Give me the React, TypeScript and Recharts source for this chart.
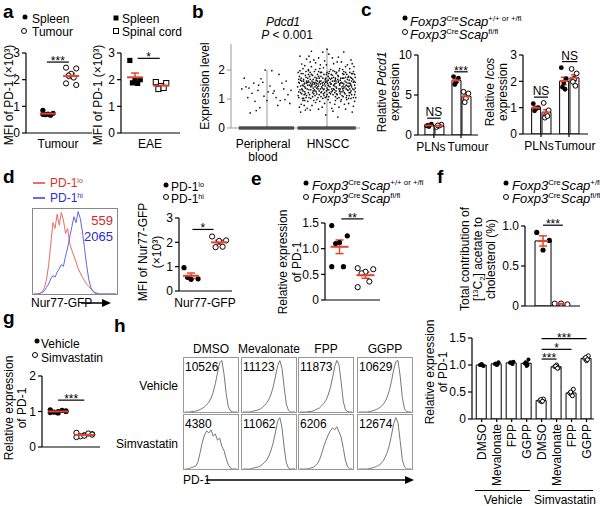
import React from 'react';
import {
  ComposedChart,
  LineChart,
  Line,
  Bar,
  Scatter,
  XAxis,
  YAxis,
  ErrorBar,
  ReferenceLine,
} from 'recharts';

const FONT = '"Liberation Sans", Arial, Helvetica, sans-serif';
const RED = '#e8412c';

// ---- a: MFI of PD-1 (x10^3)
const aTumSpleen = [0.85, 0.74, 0.71, 0.69, 0.67, 0.7];
const aTumTumour = [2.45, 2.42, 2.22, 2.15, 2.08, 1.86, 1.8];
const aEaeSpleen = [2.72, 2.0, 1.98, 1.88, 1.86];
const aEaeSpinal = [1.91, 1.87, 1.76, 1.65, 1.69];

// ---- b: Pdcd1 expression level per cell, [jitter, level]
const bBlood: [number, number][] = [
  [0.62, 1.72], [0.7, 1.38], [0.78, 1.55], [0.85, 1.3], [0.68, 1.05], [0.9, 1.7], [0.75, 1.2],
  [0.95, 1.1], [1.05, 1.45], [1.12, 1.28], [1.2, 1.85], [1.25, 1.55], [1.35, 1.15], [1.4, 1.3],
  [1.3, 0.98], [1.18, 0.78], [1.0, 0.95], [0.82, 0.6], [0.72, 0.52], [0.88, 0.7], [1.08, 1.98],
  [0.97, 2.0], [1.15, 1.05], [1.28, 1.35], [0.65, 1.42], [0.8, 0.92], [1.1, 1.2], [1.22, 0.95],
  [0.93, 1.58], [1.38, 0.85], [0.58, 1.35], [1.02, 1.25], [1.32, 1.62], [0.86, 1.48],
];
const bHnscc: [number, number][] = [
  [1.55, 1.32], [1.63, 0.95], [1.71, 1.78], [1.8, 1.12], [1.88, 2.05], [1.97, 1.45], [2.05, 0.88], [2.14, 1.66], [2.22, 1.25], [2.31, 2.12],
  [2.4, 1.48], [2.46, 0.92], [1.58, 2.21], [1.66, 1.55], [1.75, 0.78], [1.83, 1.38], [1.91, 1.92], [2.0, 1.15], [2.09, 2.42], [2.17, 1.02],
  [2.26, 1.72], [2.35, 1.3], [2.43, 1.88], [1.53, 1.05], [1.61, 1.68], [1.69, 1.22], [1.78, 2.35], [1.86, 0.65], [1.94, 1.58], [2.03, 1.88],
  [2.11, 1.35], [2.2, 0.72], [2.28, 1.95], [2.37, 1.12], [2.45, 1.62], [1.57, 0.82], [1.65, 1.95], [1.73, 1.42], [1.82, 1.65], [1.9, 1.08],
  [1.99, 2.18], [2.07, 1.52], [2.16, 1.18], [2.24, 2.28], [2.33, 0.98], [2.41, 1.42], [1.54, 1.78], [1.62, 1.15], [1.7, 2.48], [1.79, 1.52],
  [1.87, 1.28], [1.96, 0.85], [2.04, 1.72], [2.13, 1.95], [2.21, 1.48], [2.3, 1.62], [2.38, 2.05], [2.47, 1.25], [1.59, 1.48], [1.67, 0.68],
  [1.76, 1.08], [1.84, 1.85], [1.93, 2.62], [2.01, 1.32], [2.1, 0.58], [2.18, 1.82], [2.27, 1.08], [2.36, 1.78], [2.44, 0.75], [1.56, 0.55],
  [1.64, 1.38], [1.72, 1.92], [1.81, 0.88], [1.89, 1.52], [1.98, 1.72], [2.06, 2.02], [2.15, 1.42], [2.23, 0.92], [2.32, 1.48], [2.4, 2.35],
  [1.6, 2.05], [1.68, 1.72], [1.77, 1.28], [1.85, 1.05], [1.94, 1.32], [2.02, 0.98], [2.11, 2.22], [2.19, 1.58], [2.28, 1.38], [2.36, 0.85],
  [2.45, 2.12], [1.53, 1.58], [1.62, 0.78], [1.7, 1.05], [1.79, 1.95], [1.87, 1.72], [1.96, 2.32], [2.04, 1.22], [2.13, 0.82], [2.21, 2.05],
  [2.3, 1.18], [2.38, 1.55], [2.47, 1.75], [1.58, 1.18], [1.66, 2.38], [1.75, 1.62], [1.83, 1.18], [1.92, 0.72], [2.0, 1.62], [2.09, 1.28],
  [2.17, 2.28], [2.26, 1.55], [2.34, 2.18], [2.43, 1.35], [1.55, 2.48], [1.63, 1.25], [1.72, 0.62], [1.8, 1.42], [1.89, 2.18], [1.97, 1.05],
  [2.06, 1.52], [2.14, 1.08], [2.23, 1.72], [2.31, 0.65], [2.4, 1.02], [1.57, 1.88], [1.65, 1.05], [1.74, 2.12], [1.82, 1.55], [1.91, 1.25],
  [1.99, 1.85], [2.08, 0.68], [2.16, 1.92], [2.25, 1.25], [2.33, 1.85], [2.42, 0.55], [1.61, 1.45], [1.69, 1.85], [1.78, 0.95], [1.86, 2.42],
  [1.95, 1.12], [2.03, 2.55], [2.12, 1.62], [2.2, 1.35], [2.29, 0.82], [2.37, 1.45], [2.46, 1.48], [1.54, 0.72], [1.63, 2.15], [1.71, 1.15],
  [1.8, 1.75], [1.88, 0.92], [1.97, 1.68], [2.05, 1.42], [2.14, 0.95], [2.22, 1.65], [2.31, 1.92], [2.39, 1.22], [1.59, 1.02], [1.68, 1.48],
  [1.76, 1.82], [1.85, 1.35], [1.93, 1.02], [2.02, 1.78], [2.1, 1.15], [2.19, 2.45], [2.27, 1.45], [2.36, 1.02], [2.44, 1.95], [1.56, 1.65],
  [1.64, 0.62], [1.73, 1.32], [1.81, 2.25], [1.9, 1.62], [1.98, 0.45], [2.07, 1.85], [2.15, 1.28], [2.24, 0.98], [2.32, 1.58], [2.41, 1.72],
  [1.6, 1.28], [1.69, 2.02], [1.77, 1.58], [1.86, 1.45], [1.94, 2.08], [2.03, 1.08], [2.11, 1.75], [2.2, 1.05], [2.28, 2.62], [2.37, 1.65],
  [1.52, 1.92], [1.66, 1.12], [1.84, 1.62], [2.0, 2.72], [2.18, 0.38], [2.34, 1.32], [2.48, 1.05], [1.74, 2.65], [1.92, 1.38], [2.26, 2.02],
  [1.51, 1.42], [1.58, 1.62], [1.64, 1.18], [1.7, 1.58], [1.77, 1.38], [1.83, 0.98], [1.9, 1.78], [1.96, 1.22], [2.03, 1.45], [2.09, 1.62],
  [2.15, 1.88], [2.22, 1.35], [2.28, 1.72], [2.35, 1.55], [2.41, 1.15], [2.47, 1.38], [1.53, 1.25], [1.6, 1.88], [1.67, 1.35], [1.73, 1.02],
  [1.8, 1.58], [1.86, 1.95], [1.93, 1.48], [1.99, 1.28], [2.06, 1.18], [2.12, 1.45], [2.19, 1.78], [2.25, 1.12], [2.32, 1.35], [2.38, 1.92],
  [2.44, 1.58], [1.56, 1.45], [1.62, 1.52], [1.69, 1.62], [1.75, 1.45], [1.82, 1.25], [1.88, 1.62], [1.95, 1.85], [2.01, 1.55], [2.08, 1.35],
  [2.14, 1.72], [2.21, 1.52], [2.27, 1.28], [2.34, 1.68], [2.4, 1.28], [2.46, 1.85], [1.52, 1.12], [1.59, 1.32], [1.65, 1.75], [1.72, 1.68],
  [1.78, 1.18], [1.85, 1.52], [1.91, 1.42], [1.98, 1.58], [2.04, 1.95], [2.11, 1.48], [2.17, 1.15], [2.24, 1.58], [2.3, 1.42], [2.37, 1.22],
  [2.43, 1.68], [1.54, 1.55], [1.61, 1.02], [1.67, 1.58], [1.74, 1.85], [1.8, 1.28], [1.87, 1.15], [1.93, 1.72], [2.0, 1.38], [2.06, 1.68],
  [2.13, 1.22], [2.19, 1.62], [2.26, 1.88], [2.32, 1.05], [2.39, 1.52], [2.45, 1.32], [1.57, 1.72], [1.63, 1.42], [1.7, 1.32], [1.76, 1.52],
  [1.83, 1.72], [1.89, 1.35], [1.96, 1.52], [2.02, 1.65], [2.09, 1.82], [2.15, 1.55], [2.22, 1.18], [2.28, 1.52], [2.35, 1.75], [2.41, 1.62],
  [1.55, 1.98], [1.61, 1.62], [1.68, 0.92], [1.74, 1.48], [1.81, 2.02], [1.87, 1.58], [1.94, 1.18], [2.0, 1.92], [2.07, 1.25], [2.13, 1.52],
  [2.2, 1.98], [2.26, 1.35], [2.33, 1.12], [2.39, 1.75], [2.46, 1.15], [1.58, 1.35], [1.64, 1.82], [1.71, 1.48], [1.77, 1.68], [1.84, 1.42],
  [1.9, 1.22], [1.97, 1.62], [2.03, 1.32], [2.1, 1.98], [2.16, 1.38], [2.23, 1.55], [2.29, 1.22], [2.36, 1.42], [2.42, 2.22], [1.53, 1.68],
  [1.6, 0.95], [1.66, 1.62], [1.73, 1.55], [1.79, 1.32], [1.86, 1.78], [1.92, 1.55], [1.99, 1.08], [2.05, 1.58], [2.12, 1.32], [2.18, 1.68],
  [2.25, 1.42], [2.31, 1.75], [2.38, 1.35], [2.44, 1.05], [1.56, 1.22], [1.63, 1.55], [1.69, 1.98], [1.76, 1.22], [1.82, 1.48], [1.89, 1.92],
  [1.95, 1.35], [2.02, 1.48], [2.08, 1.72], [2.15, 1.62], [2.21, 1.28], [2.28, 1.85], [2.34, 1.45], [2.41, 1.88], [2.47, 1.58], [1.72, 2.28],
];

// ---- c: relative expression, [PLNs, Tumour]
const cGroups = ['PLNs', 'Tumour'];
const cPdcd1Ctrl = [[1.15, 1.35, 1.05, 1.2], [7.3, 7.1, 6.6, 6.3]];
const cPdcd1Ko = [[1.0, 1.3, 1.15, 1.2], [5.4, 5.2, 4.6, 4.1]];
const cIcosCtrl = [[1.15, 1.0, 0.95, 0.88], [2.52, 2.1, 1.95, 1.78, 1.7]];
const cIcosKo = [[1.18, 0.9, 0.72, 0.62, 0.68], [2.47, 2.3, 2.1, 1.98, 1.83]];

// ---- d: Nur77-GFP histograms (40 bins) and MFI
const dHistLo = [0, 0, 0, 1, 3, 8, 18, 35, 60, 85, 78, 95, 82, 97, 88, 72, 78, 60, 52, 45, 38, 30, 25, 20, 16, 12, 9, 6, 4, 2, 1, 0, 0, 0, 0, 0, 0, 0, 0, 0];
const dHistHi = [0, 0, 0, 1, 2, 4, 8, 12, 18, 22, 20, 26, 30, 35, 33, 45, 55, 68, 80, 92, 85, 98, 90, 75, 55, 35, 18, 8, 3, 1, 0, 0, 0, 0, 0, 0, 0, 0, 0, 0];
const dMfi = ['559', '2065'];
const dNurLo = [0.96, 0.5, 0.48, 0.56];
const dNurHi = [2.24, 2.08, 2.06, 1.8, 1.82];

// ---- e: relative expression of PD-1
const eCtrl = [1.45, 1.25, 1.12, 1.1, 0.65, 0.65];
const eKo = [0.62, 0.6, 0.55, 0.52, 0.36, 0.25];

// ---- f: [13C2] acetate to cholesterol (%)
const fCtrl = [0.92, 0.82, 0.7];
const fKo = [0.03, 0.02, 0.03];

// ---- g: relative expression of PD-1
const gVehicle = [1.05, 1.02, 1.0, 0.98, 1.03, 0.97, 1.0, 0.96];
const gSimva = [0.4, 0.36, 0.33, 0.3, 0.38, 0.28, 0.35, 0.32];

// ---- h
const hTreat = ['DMSO', 'Mevalonate', 'FPP', 'GGPP'];
const hMfiVehicle = [10526, 11123, 11873, 10629];
const hMfiSimva = [4380, 11062, 6206, 12674];
const hHistVehicle = [
  [0, 0, 0, 1, 1, 2, 3, 5, 7, 10, 14, 19, 27, 38, 55, 76, 96, 100, 74, 36, 10, 2, 0, 0, 0],
  [0, 0, 0, 0, 1, 2, 3, 4, 6, 9, 13, 18, 25, 35, 50, 70, 90, 100, 85, 48, 15, 3, 0, 0, 0],
  [0, 0, 0, 0, 1, 1, 2, 4, 6, 8, 12, 17, 23, 33, 47, 66, 88, 100, 92, 58, 20, 4, 1, 0, 0],
  [0, 0, 0, 0, 0, 1, 2, 3, 5, 7, 10, 14, 20, 29, 42, 60, 82, 98, 100, 70, 28, 6, 1, 0, 0],
];
const hHistSimva = [
  [0, 0, 1, 3, 4, 6, 14, 32, 52, 66, 74, 70, 76, 64, 68, 56, 60, 44, 36, 20, 8, 2, 0, 0, 0],
  [0, 0, 0, 0, 1, 2, 3, 4, 6, 9, 13, 18, 26, 37, 52, 72, 93, 100, 80, 42, 12, 2, 0, 0, 0],
  [0, 0, 0, 0, 1, 2, 3, 6, 10, 18, 30, 44, 56, 66, 74, 80, 76, 82, 72, 62, 40, 16, 4, 0, 0],
  [0, 0, 0, 0, 0, 1, 2, 3, 5, 7, 10, 15, 22, 32, 46, 66, 88, 100, 90, 55, 18, 4, 0, 0, 0],
];
const hRelVehicle = [
  [1.0, 0.98, 1.02, 1.01, 0.99],
  [1.02, 1.05, 1.0, 1.03, 1.01],
  [1.04, 1.06, 1.03, 1.05, 1.02],
  [1.03, 1.1, 0.98, 1.05, 1.0],
];
const hRelSimva = [
  [0.34, 0.37, 0.32, 0.36, 0.33],
  [0.97, 0.95, 1.0, 0.98, 0.94],
  [0.48, 0.55, 0.45, 0.5, 0.43],
  [1.12, 1.17, 1.08, 1.14, 1.1],
];

// ---------------------------------------------------------------------------

const AX = { stroke: '#000', strokeWidth: 1.2 };
const GAX = { stroke: '#999', strokeWidth: 1 };
const TICK = { fontSize: 12, fill: '#000', fontFamily: FONT };
const YW = 30;
const MR = 20;

type Geom = { ax: number; yt: number; y0: number; xr: number };
type Mark = 'fc' | 'oc' | 'fs' | 'os';
type Grp = { c: number; v: number[]; m: Mark };
type Sig = { x1: number; x2: number; y: number; t: string };

const OFF = [-1, 1, 0, -0.5, 0.5, -1, 1, 0, -0.5, 0.5];
const spread = (v: number[], c: number, step: number) =>
  v.map((y, i) => ({ x: c + OFF[i % OFF.length] * step, y }));
const mean = (v: number[]) => v.reduce((a, b) => a + b, 0) / v.length;
const sem = (v: number[]) => {
  const m = mean(v);
  const sd = Math.sqrt(v.reduce((a, b) => a + (b - m) ** 2, 0) / (v.length - 1));
  return sd / Math.sqrt(v.length);
};
const int = (v: number) => String(v);
const dec = (v: number) => (v === 0 ? '0' : v.toFixed(1));

const markShape = (m: Mark, r: number) => (p: any) => {
  if (p.cx == null) return <g />;
  if (m === 'fc') return <circle cx={p.cx} cy={p.cy} r={r} fill="#000" />;
  if (m === 'oc') return <circle cx={p.cx} cy={p.cy} r={r} fill="#fff" stroke="#000" strokeWidth={1} />;
  if (m === 'fs') return <rect x={p.cx - r} y={p.cy - r} width={2 * r} height={2 * r} fill="#000" />;
  return <rect x={p.cx - r} y={p.cy - r} width={2 * r} height={2 * r} fill="#fff" stroke="#000" strokeWidth={1} />;
};
const meanShape = (hw: number, color: string) => (p: any) =>
  hw > 0 && p.cx != null ? (
    <line x1={p.cx - hw} x2={p.cx + hw} y1={p.cy} y2={p.cy} stroke={color} strokeWidth={2} />
  ) : (
    <g />
  );

const yAxis = (yd: number[], ticks: number[], fmt: (v: number) => string, line = AX) => (
  <YAxis
    type="number"
    dataKey="y"
    domain={yd}
    ticks={ticks}
    interval={0}
    width={YW}
    tickSize={4}
    tickMargin={2}
    allowDataOverflow
    axisLine={line}
    tickLine={line}
    tick={TICK}
    tickFormatter={fmt}
  />
);

const sigLine = (s: Sig, k: number, xAxisId: any = 0) => (
  <ReferenceLine
    key={'s' + k}
    xAxisId={xAxisId}
    segment={[{ x: s.x1, y: s.y }, { x: s.x2, y: s.y }]}
    stroke="#000"
    strokeWidth={1.2}
    ifOverflow="visible"
    label={{ value: s.t, position: 'top', offset: s.t.includes('*') ? -3 : 2, fontSize: 12, fill: '#000', fontFamily: FONT }}
  />
);

const meanLayer = (gs: Grp[], hw: number, color: string, cap: number, xAxisId: any = 0) =>
  gs.map((g, k) => (
    <Scatter
      key={'m' + k}
      xAxisId={xAxisId}
      data={[{ x: g.c, y: mean(g.v), e: sem(g.v) }]}
      dataKey="y"
      shape={meanShape(hw, color)}
      isAnimationActive={false}
    >
      <ErrorBar dataKey="e" direction="y" width={cap} stroke={color} strokeWidth={1.5} />
    </Scatter>
  ));

function Plot({ g, xh, mt = 22, data, children }: { g: Geom; xh: number; mt?: number; data?: any[]; children: any }) {
  const width = g.xr - g.ax + YW + MR;
  const height = g.y0 - g.yt + mt + xh;
  return (
    <div style={{ position: 'absolute', left: g.ax - YW, top: g.yt - mt }}>
      <ComposedChart width={width} height={height} data={data} margin={{ top: mt, right: MR, left: 0, bottom: 0 }}>
        {children}
      </ComposedChart>
    </div>
  );
}

function DotChart(props: {
  g: Geom; xd: number[]; yd: number[]; ticks: number[]; fmt: (v: number) => string;
  groups: Grp[]; sigs?: Sig[]; step?: number; r?: number; hw?: number;
}) {
  const { g, xd, yd, ticks, fmt, groups, sigs = [], step = 0.12, r = 2.6, hw = 9 } = props;
  return (
    <Plot g={g} xh={10}>
      <XAxis type="number" dataKey="x" domain={xd} allowDataOverflow height={10} tick={false} tickLine={false} axisLine={AX} />
      {yAxis(yd, ticks, fmt)}
      {groups.map((gr, k) => (
        <Scatter key={'p' + k} data={spread(gr.v, gr.c, step)} dataKey="y" shape={markShape(gr.m, r)} isAnimationActive={false} />
      ))}
      {meanLayer(groups, hw, RED, 4)}
      {sigs.map((s, k) => sigLine(s, k))}
    </Plot>
  );
}

function BarDots(props: {
  g: Geom; xd: number[]; yd: number[]; ticks: number[]; fmt: (v: number) => string;
  bars: Grp[]; bw: number; xt: number[]; tickEl: any; xh: number; sigs: Sig[];
  step: number; r: number; ec: string; hw: number; cap: number;
}) {
  const { g, xd, yd, ticks, fmt, bars, bw, xt, tickEl, xh, sigs, step, r, ec, hw, cap } = props;
  const rows = bars.map((b) => ({ x: b.c, y: mean(b.v) }));
  return (
    <Plot g={g} xh={xh} data={rows}>
      <XAxis
        xAxisId="b"
        type="number"
        dataKey="x"
        domain={xd}
        allowDataOverflow
        ticks={xt}
        interval={0}
        height={xh}
        tickSize={3}
        axisLine={AX}
        tickLine={tickEl === false ? false : AX}
        tick={tickEl}
      />
      <XAxis xAxisId="p" type="number" dataKey="x" domain={xd} allowDataOverflow hide />
      {yAxis(yd, ticks, fmt)}
      <Bar xAxisId="b" dataKey="y" barSize={bw} fill="#fff" stroke="#000" strokeWidth={1} isAnimationActive={false} />
      {bars.map((b, k) => (
        <Scatter key={'p' + k} xAxisId="p" data={spread(b.v, b.c, step)} dataKey="y" shape={markShape(b.m, r)} isAnimationActive={false} />
      ))}
      {meanLayer(bars, hw, ec, cap, 'p')}
      {sigs.map((s, k) => sigLine(s, k, 'p'))}
    </Plot>
  );
}

const catTick = (labels: string[], shift: number[]) => (p: any) => {
  const i = Math.round(p.payload.value) - 1;
  return (
    <text x={p.x + shift[i]} y={p.y + 2} dy="0.71em" textAnchor="middle" fontSize={12} fontFamily={FONT} fill="#000">
      {labels[i]}
    </text>
  );
};
const rotTick = (labels: string[]) => (p: any) => {
  const i = Math.round(p.payload.value) - 1;
  return (
    <text
      x={p.x}
      y={p.y}
      transform={`rotate(-90 ${p.x} ${p.y})`}
      textAnchor="end"
      dominantBaseline="central"
      fontSize={12}
      fontFamily={FONT}
      fill="#000"
    >
      {labels[i]}
    </text>
  );
};

function Hist({ x, y, w, h, series, colors, maxY, border }: {
  x: number; y: number; w: number; h: number; series: number[][]; colors: string[]; maxY: number; border: string;
}) {
  const rows = series[0].map((_, i) => {
    const r: any = { i };
    series.forEach((s, k) => (r['s' + k] = s[i]));
    return r;
  });
  return (
    <div style={{ position: 'absolute', left: x, top: y, width: w, height: h, border: `1px solid ${border}`, boxSizing: 'border-box' }}>
      <LineChart width={w - 2} height={h - 2} data={rows} margin={{ top: 1, right: 1, bottom: 0, left: 1 }}>
        <XAxis dataKey="i" type="number" domain={[0, rows.length - 1]} hide />
        <YAxis domain={[0, maxY]} allowDataOverflow hide />
        {series.map((_, k) => (
          <Line key={k} type="linear" dataKey={'s' + k} stroke={colors[k]} strokeWidth={1} dot={false} isAnimationActive={false} />
        ))}
      </LineChart>
    </div>
  );
}

// ---- text helpers
function Tx({ x, y, a = 'start', s = 12, b, i, c = '#000', children }: {
  x: number; y: number; a?: 'start' | 'middle' | 'end'; s?: number; b?: boolean; i?: boolean; c?: string; children: any;
}) {
  const tx = a === 'start' ? '0' : a === 'middle' ? '-50%' : '-100%';
  return (
    <div
      style={{
        position: 'absolute', left: x, top: y, transform: `translate(${tx}, -50%)`, fontSize: s,
        fontWeight: b ? 700 : 400, fontStyle: i ? 'italic' : 'normal', color: c, whiteSpace: 'nowrap', lineHeight: 1,
      }}
    >
      {children}
    </div>
  );
}
function YLab({ x, y, lines, lh = 13 }: { x: number; y: number; lines: any[]; lh?: number }) {
  return (
    <div
      style={{
        position: 'absolute', left: x, top: y, transform: 'translate(-50%, -50%) rotate(-90deg)', textAlign: 'center',
        fontSize: 12, lineHeight: lh + 'px', whiteSpace: 'nowrap',
      }}
    >
      {lines.map((l, k) => (
        <div key={k}>{l}</div>
      ))}
    </div>
  );
}
const Sup = ({ children }: { children: any }) => (
  <span style={{ fontSize: '0.6em', verticalAlign: '0.55em', fontStyle: 'normal', lineHeight: 0 }}>{children}</span>
);
const Geno = ({ sup }: { sup: string }) => (
  <>
    <i>Foxp3</i>
    <Sup>Cre</Sup>
    <i>Scap</i>
    <Sup>{sup}</Sup>
  </>
);
function Mk({ x, y, k, r = 2.5 }: { x: number; y: number; k: Mark; r?: number }) {
  return (
    <svg style={{ position: 'absolute', left: x - 5, top: y - 5 }} width={10} height={10}>
      {markShape(k, r)({ cx: 5, cy: 5 })}
    </svg>
  );
}
function LineMk({ x, y, w, c }: { x: number; y: number; w: number; c: string }) {
  return (
    <svg style={{ position: 'absolute', left: x, top: y - 2 }} width={w} height={4}>
      <line x1={0} x2={w} y1={2} y2={2} stroke={c} strokeWidth={1.5} />
    </svg>
  );
}
function Arrow({ x1, x2, y }: { x1: number; x2: number; y: number }) {
  const w = x2 - x1;
  return (
    <svg style={{ position: 'absolute', left: x1, top: y - 5 }} width={w} height={10}>
      <line x1={0} y1={5} x2={w - 6} y2={5} stroke="#000" strokeWidth={1.5} />
      <polygon points={`${w - 9},1 ${w},5 ${w - 9},9`} fill="#000" />
    </svg>
  );
}
const Letter = ({ x, y, t }: { x: number; y: number; t: string }) => (
  <Tx x={x} y={y} s={19} b>
    {t}
  </Tx>
);

// ---------------------------------------------------------------------------

export default function App() {
  const blood = bBlood.map(([x, y]) => ({ x, y }));
  const hnscc = bHnscc.map(([x, y]) => ({ x, y }));
  const span = (pts: { x: number; y: number }[]) => ({
    x1: Math.min(...pts.map((p) => p.x)),
    x2: Math.max(...pts.map((p) => p.x)),
    top: Math.max(...pts.map((p) => p.y)),
  });
  const sb = span(blood);
  const sh = span(hnscc);
  const tiny = (p: any) => (p.cx == null ? <g /> : <circle cx={p.cx} cy={p.cy} r={0.85} fill="#111" />);

  const cBars = (ctrl: number[][], ko: number[][]): Grp[] =>
    cGroups.flatMap((_, i) => [
      { c: i + 1 - 0.185, v: ctrl[i], m: 'fc' as Mark },
      { c: i + 1 + 0.185, v: ko[i], m: 'oc' as Mark },
    ]);

  const hBars: Grp[] = [
    ...hRelVehicle.map((v, i) => ({ c: i + 1, v, m: 'fc' as Mark })),
    ...hRelSimva.map((v, i) => ({ c: i + 5, v, m: 'oc' as Mark })),
  ];
  const hCols = [183, 241, 298, 357];
  const hRows = [357, 414];

  return (
    <div
      style={{
        position: 'absolute', left: 0, top: 0, width: 600, height: 506, background: '#fff',
        fontFamily: FONT, overflow: 'hidden', color: '#000',
      }}
    >
      {/* ---------------- a ---------------- */}
      <Letter x={3} y={11} t="a" />
      <Mk x={25} y={17} k="fc" />
      <Tx x={32} y={19}>Spleen</Tx>
      <Mk x={24} y={31} k="oc" />
      <Tx x={32} y={32}>Tumour</Tx>
      <YLab x={9} y={95} lines={['MFI of PD-1 (×10³)']} />
      <DotChart
        g={{ ax: 26, yt: 53, y0: 133, xr: 92 }}
        xd={[0.05, 2.9]}
        yd={[0, 3]}
        ticks={[0, 1, 2, 3]}
        fmt={int}
        groups={[
          { c: 1, v: aTumSpleen, m: 'fc' },
          { c: 2, v: aTumTumour, m: 'oc' },
        ]}
        sigs={[{ x1: 0.95, x2: 1.9, y: 2.66, t: '***' }]}
        step={0.22}
        hw={8}
      />
      <Tx x={58} y={144} a="middle">Tumour</Tx>

      <Mk x={116} y={18} k="fs" />
      <Tx x={122} y={19}>Spleen</Tx>
      <Mk x={116} y={31} k="os" />
      <Tx x={122} y={32}>Spinal cord</Tx>
      <YLab x={98} y={95} lines={['MFI of PD-1 (×10³)']} />
      <DotChart
        g={{ ax: 121, yt: 53, y0: 133, xr: 180 }}
        xd={[0.46, 2.73]}
        yd={[0, 3]}
        ticks={[0, 1, 2, 3]}
        fmt={int}
        groups={[
          { c: 1, v: aEaeSpleen, m: 'fs' },
          { c: 2, v: aEaeSpinal, m: 'os' },
        ]}
        sigs={[{ x1: 1.1, x2: 1.95, y: 2.8, t: '*' }]}
        step={0.2}
        hw={8}
      />
      <Tx x={150} y={144} a="middle">EAE</Tx>

      {/* ---------------- b ---------------- */}
      <Letter x={192} y={11} t="b" />
      <Tx x={283} y={22} a="middle" i>Pdcd1</Tx>
      <Tx x={287} y={35} a="middle"><i>P</i> &lt; 0.001</Tx>
      <YLab x={205} y={86} lines={['Expression level']} />
      <Plot g={{ ax: 231, yt: 44, y0: 128, xr: 360 }} xh={10}>
        <XAxis type="number" dataKey="x" domain={[0.4, 2.55]} allowDataOverflow height={10} tick={false} tickLine={false} axisLine={GAX} />
        {yAxis([0, 2.9], [0, 1, 2], int, GAX)}
        <ReferenceLine segment={[{ x: 1, y: 0 }, { x: 1, y: sb.top }]} stroke="#999" strokeWidth={1} />
        <ReferenceLine segment={[{ x: 2, y: 0 }, { x: 2, y: sh.top }]} stroke="#999" strokeWidth={1} />
        <Scatter data={blood} dataKey="y" shape={tiny} isAnimationActive={false} />
        <Scatter data={hnscc} dataKey="y" shape={tiny} isAnimationActive={false} />
        <ReferenceLine segment={[{ x: sb.x1 - 0.05, y: 0 }, { x: sb.x2 + 0.05, y: 0 }]} stroke="#000" strokeWidth={3} />
        <ReferenceLine segment={[{ x: sh.x1, y: 0 }, { x: sh.x2, y: 0 }]} stroke="#000" strokeWidth={3} />
      </Plot>
      <Tx x={263} y={144} a="middle">Peripheral</Tx>
      <Tx x={263} y={157} a="middle">blood</Tx>
      <Tx x={328} y={144} a="middle">HNSCC</Tx>

      {/* ---------------- c ---------------- */}
      <Letter x={361} y={9} t="c" />
      <Mk x={405} y={18} k="fc" />
      <Tx x={410} y={21} s={13}><Geno sup="+/+ or +/fl" /></Tx>
      <Mk x={405} y={32} k="oc" />
      <Tx x={410} y={34} s={13}><Geno sup="fl/fl" /></Tx>
      <YLab x={389} y={92} lines={[<>Relative <i>Pdcd1</i></>, 'expression']} />
      <BarDots
        g={{ ax: 418, yt: 55, y0: 135, xr: 478 }}
        xd={[0.41, 2.63]}
        yd={[0, 10]}
        ticks={[0, 5, 10]}
        fmt={int}
        bars={cBars(cPdcd1Ctrl, cPdcd1Ko)}
        bw={9}
        xt={[1, 2]}
        tickEl={catTick(cGroups, [-3, 7])}
        xh={18}
        sigs={[
          { x1: 0.75, x2: 1.25, y: 2.1, t: 'NS' },
          { x1: 1.75, x2: 2.25, y: 7.9, t: '***' },
        ]}
        step={0.09}
        r={2.4}
        ec={RED}
        hw={4}
        cap={3}
      />
      <YLab x={497} y={92} lines={[<>Relative <i>Icos</i></>, 'expression']} />
      <BarDots
        g={{ ax: 523, yt: 55, y0: 134, xr: 588 }}
        xd={[0.357, 2.68]}
        yd={[0, 3]}
        ticks={[0, 1, 2, 3]}
        fmt={int}
        bars={cBars(cIcosCtrl, cIcosKo)}
        bw={9}
        xt={[1, 2]}
        tickEl={catTick(cGroups, [-2, 6])}
        xh={18}
        sigs={[
          { x1: 0.75, x2: 1.25, y: 1.4, t: 'NS' },
          { x1: 1.75, x2: 2.3, y: 2.75, t: 'NS' },
        ]}
        step={0.09}
        r={2.4}
        ec={RED}
        hw={4}
        cap={3}
      />

      {/* ---------------- d ---------------- */}
      <Letter x={3} y={176} t="d" />
      <LineMk x={33} y={183} w={12} c="#e0403a" />
      <Tx x={50} y={183} c="#d93030">PD-1<Sup>lo</Sup></Tx>
      <LineMk x={33} y={198} w={12} c="#3a3ad8" />
      <Tx x={50} y={198} c="#2f2fd0">PD-1<Sup>hi</Sup></Tx>
      <Hist x={32} y={208} w={86} h={87} series={[dHistLo, dHistHi]} colors={['#ef6a66', '#6464e6']} maxY={100} border="#888" />
      <Tx x={113} y={220} a="end" s={13} c="#d42a2a">{dMfi[0]}</Tx>
      <Tx x={113} y={236} a="end" s={13} c="#2a2ad0">{dMfi[1]}</Tx>
      <Tx x={31} y={303}>Nur77-GFP</Tx>
      <Arrow x1={81} x2={111} y={303} />

      <Mk x={166} y={185} k="fc" />
      <Tx x={171} y={187}>PD-1<Sup>lo</Sup></Tx>
      <Mk x={166} y={197} k="oc" />
      <Tx x={171} y={199}>PD-1<Sup>hi</Sup></Tx>
      <YLab x={150} y={252} lines={['MFI of Nur77-GFP', '(×10³)']} lh={14} />
      <DotChart
        g={{ ax: 179, yt: 218, y0: 291, xr: 232 }}
        xd={[0.571, 2.46]}
        yd={[0, 3]}
        ticks={[0, 1, 2, 3]}
        fmt={int}
        groups={[
          { c: 1, v: dNurLo, m: 'fc' },
          { c: 2, v: dNurHi, m: 'oc' },
        ]}
        sigs={[{ x1: 1.05, x2: 1.8, y: 2.53, t: '*' }]}
        step={0.25}
        hw={8}
      />
      <Tx x={205} y={303} a="middle">Nur77-GFP</Tx>

      {/* ---------------- e ---------------- */}
      <Letter x={251} y={178} t="e" />
      <Mk x={306} y={183} k="fc" />
      <Tx x={312} y={185} s={13}><Geno sup="+/+ or +/fl" /></Tx>
      <Mk x={306} y={197} k="oc" />
      <Tx x={312} y={198} s={13}><Geno sup="fl/fl" /></Tx>
      <YLab x={290} y={262} lines={['Relative expression', 'of PD-1']} lh={14} />
      <DotChart
        g={{ ax: 325, yt: 223, y0: 300, xr: 380 }}
        xd={[0.44, 2.56]}
        yd={[0, 1.5]}
        ticks={[0, 0.5, 1, 1.5]}
        fmt={dec}
        groups={[
          { c: 1, v: eCtrl, m: 'fc' },
          { c: 2, v: eKo, m: 'oc' },
        ]}
        sigs={[{ x1: 1.07, x2: 1.92, y: 1.58, t: '**' }]}
        step={0.3}
        hw={9}
      />

      {/* ---------------- f ---------------- */}
      <Letter x={437} y={176} t="f" />
      <Mk x={506} y={183} k="fc" />
      <Tx x={512} y={185} s={13}><Geno sup="+/fl" /></Tx>
      <Mk x={506} y={197} k="oc" />
      <Tx x={512} y={198} s={13}><Geno sup="fl/fl" /></Tx>
      <YLab
        x={478}
        y={259}
        lines={['Total contribution of', <>[<Sup>13</Sup>C<sub style={{ fontSize: '0.65em', lineHeight: 0 }}>2</sub>] acetate to</>, 'cholesterol (%)']}
        lh={13}
      />
      <BarDots
        g={{ ax: 525, yt: 226, y0: 306, xr: 580 }}
        xd={[0, 3.05]}
        yd={[0, 1]}
        ticks={[0, 0.5, 1]}
        fmt={dec}
        bars={[
          { c: 1, v: fCtrl, m: 'fc' },
          { c: 2, v: fKo, m: 'oc' },
        ]}
        bw={16}
        xt={[1, 2]}
        tickEl={false}
        xh={10}
        sigs={[{ x1: 1.0, x2: 2.1, y: 1.01, t: '***' }]}
        step={0.35}
        r={2.6}
        ec={RED}
        hw={5}
        cap={4}
      />

      {/* ---------------- g ---------------- */}
      <Letter x={3} y={317} t="g" />
      <Mk x={37} y={341} k="fc" />
      <Tx x={41} y={344}>Vehicle</Tx>
      <Mk x={35} y={355} k="oc" />
      <Tx x={41} y={358}>Simvastatin</Tx>
      <YLab x={16} y={408} lines={['Relative expression', 'of PD-1']} lh={13} />
      <DotChart
        g={{ ax: 42, yt: 376, y0: 447, xr: 100 }}
        xd={[0.385, 2.6]}
        yd={[0, 2]}
        ticks={[0, 1, 2]}
        fmt={int}
        groups={[
          { c: 1, v: gVehicle, m: 'fc' },
          { c: 2, v: gSimva, m: 'oc' },
        ]}
        sigs={[{ x1: 1.0, x2: 2.0, y: 1.32, t: '***' }]}
        step={0.3}
        hw={10}
      />

      {/* ---------------- h ---------------- */}
      <Letter x={114} y={325} t="h" />
      {hTreat.map((t, i) => (
        <Tx key={'hc' + i} x={hCols[i] + 28} y={349} a="middle">{t}</Tx>
      ))}
      <Tx x={178} y={386} a="end">Vehicle</Tx>
      <Tx x={178} y={444} a="end">Simvastatin</Tx>
      {hTreat.map((_, i) => (
        <Hist key={'hv' + i} x={hCols[i]} y={hRows[0]} w={56} h={56} series={[hHistVehicle[i]]} colors={['#777']} maxY={103} border="#999" />
      ))}
      {hTreat.map((_, i) => (
        <Hist key={'hs' + i} x={hCols[i]} y={hRows[1]} w={56} h={56} series={[hHistSimva[i]]} colors={['#777']} maxY={103} border="#999" />
      ))}
      {hTreat.map((_, i) => (
        <Tx key={'nv' + i} x={hCols[i] + 2} y={hRows[0] + 10}>{hMfiVehicle[i]}</Tx>
      ))}
      {hTreat.map((_, i) => (
        <Tx key={'ns' + i} x={hCols[i] + 2} y={hRows[1] + 10}>{hMfiSimva[i]}</Tx>
      ))}
      <Tx x={183} y={480}>PD-1</Tx>
      <Arrow x1={206} x2={414} y={480} />

      <YLab x={437} y={372} lines={['Relative expression', 'of PD-1']} lh={13} />
      <BarDots
        g={{ ax: 472, yt: 338, y0: 419, xr: 594 }}
        xd={[0.35, 8.5]}
        yd={[0, 1.5]}
        ticks={[0, 0.5, 1, 1.5]}
        fmt={dec}
        bars={hBars}
        bw={10}
        xt={[1, 2, 3, 4, 5, 6, 7, 8]}
        tickEl={rotTick([...hTreat, ...hTreat])}
        xh={68}
        sigs={[
          { x1: 5, x2: 8, y: 1.49, t: '***' },
          { x1: 5, x2: 7, y: 1.29, t: '*' },
          { x1: 5, x2: 6, y: 1.11, t: '***' },
        ]}
        step={0.12}
        r={2}
        ec="#000"
        hw={0}
        cap={2}
      />
      <div style={{ position: 'absolute', left: 475, top: 490, width: 55, borderTop: '1.5px solid #000' }} />
      <div style={{ position: 'absolute', left: 538, top: 490, width: 55, borderTop: '1.5px solid #000' }} />
      <Tx x={503} y={500} a="middle">Vehicle</Tx>
      <Tx x={565} y={500} a="middle">Simvastatin</Tx>
    </div>
  );
}
